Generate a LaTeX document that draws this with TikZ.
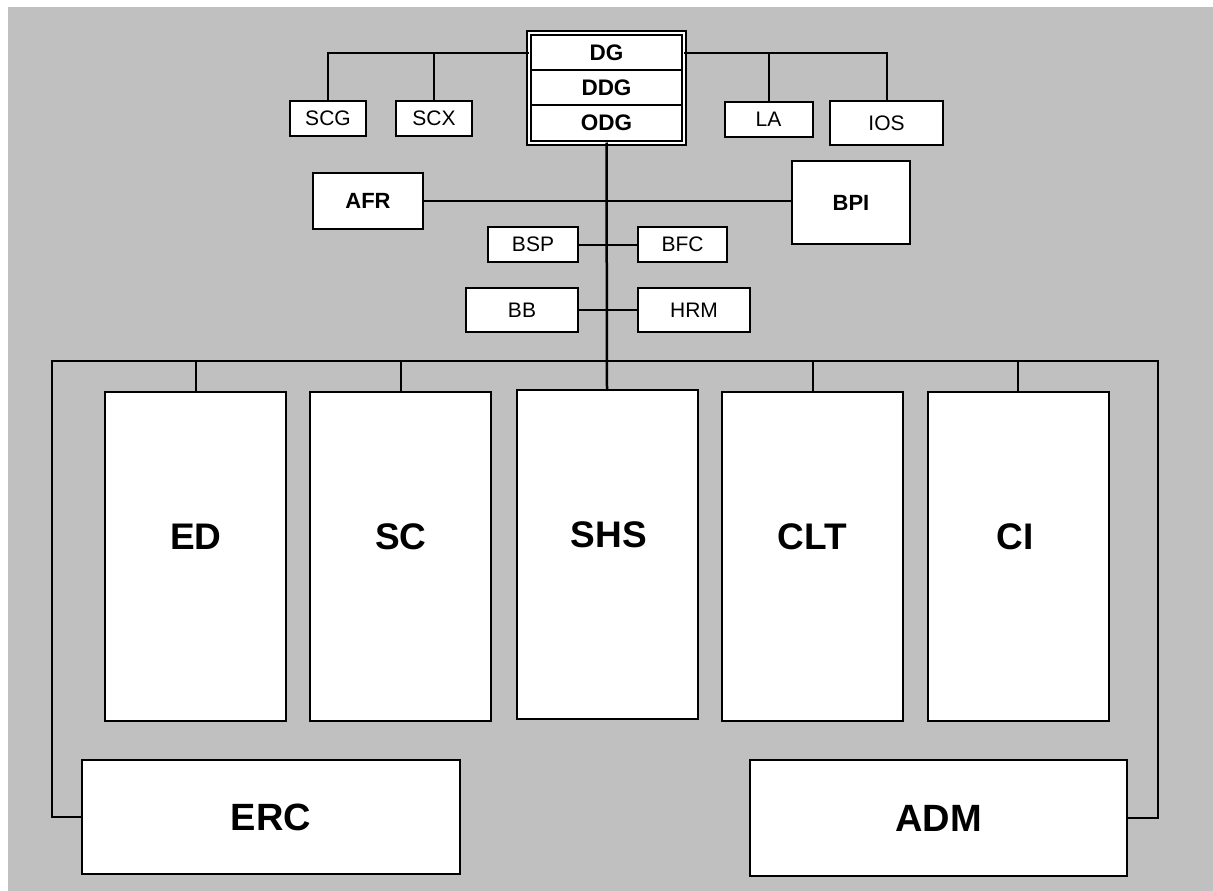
\documentclass[tikz,border=0pt]{standalone}
\usepackage{fontspec}
\setmainfont{Liberation Sans}
\begin{document}
\begin{tikzpicture}[x=1pt,y=-1pt,
  box/.style={draw, fill=white, line width=2pt, inner sep=0pt, outer sep=0pt},
  smallbox/.style={box, font=\fontsize{21}{24}\selectfont},
  boldbox/.style={box, font=\fontsize{22}{26}\selectfont\bfseries},
  rowbox/.style={box, minimum width=151pt, minimum height=35.1pt, font=\fontsize{22.5}{26}\selectfont\bfseries},
  bigbox/.style={box, minimum width=181pt, minimum height=329pt},
  widebox/.style={box, font=\fontsize{38}{44}\selectfont\bfseries},
  bigtxt/.style={inner sep=0pt, font=\fontsize{37}{44}\selectfont\bfseries},
  link/.style={line width=2pt},
  trunk/.style={line width=2.5pt}]
\useasboundingbox (0,0) rectangle (1213,891);
\fill[fill={rgb,255:red,192;green,192;blue,192}] (8,7) rectangle (1213,891);

% top block
\node[box, double, double distance=2pt, minimum width=155pt, minimum height=109pt] (main) at (606.5,88) {};
\node[rowbox] (DG) at (606.5,52.75) {DG};
\node[rowbox] (DDG) at (606.5,87.85) {DDG};
\node[rowbox] (ODG) at (606.5,122.95) {ODG};

\node[smallbox, minimum width=76pt, minimum height=35pt] (SCG) at (328,118.5) {SCG};
\node[smallbox, minimum width=76pt, minimum height=35pt] (SCX) at (434,118.5) {SCX};
\node[smallbox, minimum width=88pt, minimum height=35pt] (LA) at (768.5,119) {LA};
\node[smallbox, minimum width=113pt, minimum height=44pt] (IOS) at (886.5,123) {IOS};

\node[boldbox, minimum width=110pt, minimum height=56pt] (AFR) at (368,201) {AFR};
\node[boldbox, minimum width=118pt, minimum height=83pt] (BPI) at (851,202.5) {BPI};

\node[smallbox, minimum width=90pt, minimum height=35pt] (BSP) at (533,244.5) {BSP};
\node[smallbox, minimum width=89pt, minimum height=35pt] (BFC) at (682.5,244.5) {BFC};
\node[smallbox, minimum width=112pt, minimum height=44pt] (BB) at (522,310) {BB};
\node[smallbox, minimum width=112pt, minimum height=44pt] (HRM) at (694,310) {HRM};

% departments
\node[bigbox] (ED) at (195.5,556.5) {};
\node[bigbox] (SC) at (400.5,556.5) {};
\node[bigbox] (SHS) at (607,554) {};
\node[bigbox] (CLT) at (812.5,556) {};
\node[bigbox] (CI) at (1018,556) {};
\node[bigtxt] (EDt) at (196,537) {ED};
\node[bigtxt] (SCt) at (401,537) {SC};
\node[bigtxt] (SHSt) at (609,535) {SHS};
\node[bigtxt] (CLTt) at (812,537) {CLT};
\node[bigtxt] (CIt) at (1015,537) {CI};

\node[widebox, minimum width=378pt, minimum height=114pt] (ERC) at (271,817) {ERC};
\node[widebox, minimum width=377pt, minimum height=116pt] (ADM) at (938.5,818) {ADM};

% connectors
\coordinate (barL) at (52,361);
\coordinate (barR) at (1158,361);
\draw[link] (SCG.north) |- (main.west |- DG.center);
\draw[link] (SCX.north) -- (SCX.north |- DG.center);
\draw[link] (main.east |- DG.center) -| (IOS.north);
\draw[link] (LA.north) -- (LA.north |- DG.center);
\draw[trunk] (main.south) -- (SHS.north);
\draw[link] (AFR.east) -- (AFR.east -| BPI.west);
\draw[link] (BSP.east) -- (BFC.west);
\draw[link] (BB.east) -- (HRM.west);
\draw[link] (ERC.west) -| (barL) -- (barR) |- (ADM.east);
\draw[link] (ED.north) -- (ED.north |- barL);
\draw[link] (SC.north) -- (SC.north |- barL);
\draw[link] (CLT.north) -- (CLT.north |- barL);
\draw[link] (CI.north) -- (CI.north |- barL);
\end{tikzpicture}
\end{document}
